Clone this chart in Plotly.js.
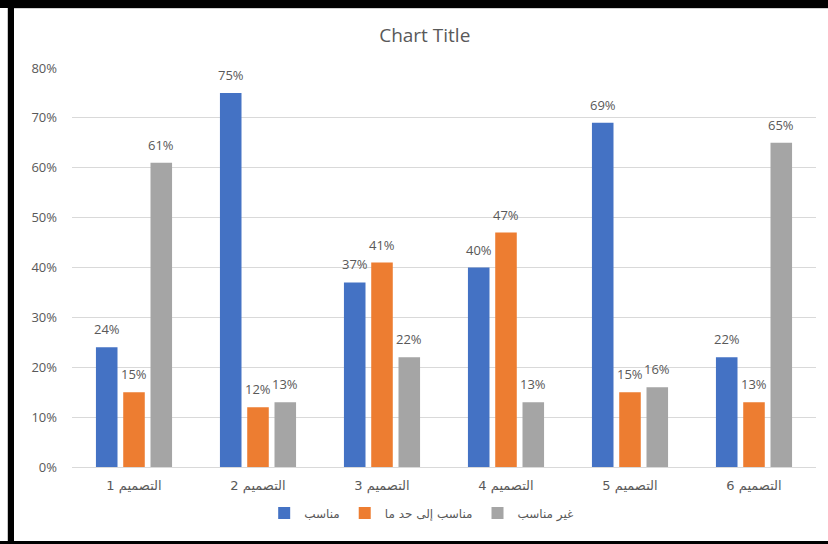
<!DOCTYPE html>
<html>
<head>
<meta charset="utf-8">
<script src="https://cdn.plot.ly/plotly-3.0.1.min.js"></script>
<style>
html,body{margin:0;padding:0;background:#fff;}
#wrap{position:relative;width:828px;height:544px;overflow:hidden;}
#chart{position:absolute;left:0;top:0;width:828px;height:544px;}
.b{position:absolute;background:#000;}
</style>
</head>
<body>
<div id="wrap">
<div id="chart"></div>
<div style="position:absolute;left:7px;top:0;width:1px;height:544px;background:#c8c8c8;"></div>
<div class="b" style="left:0;top:0;width:828px;height:8px;"></div>
<div class="b" style="left:8px;top:0;width:6px;height:544px;"></div>
<div class="b" style="left:0;top:541px;width:828px;height:3px;"></div>
<div style="position:absolute;left:14px;top:8px;width:814px;height:1px;background:#d0d0d0;"></div>
</div>
<script>
var categories = ["التصميم 1", "التصميم 2", "التصميم 3", "التصميم 4", "التصميم 5", "التصميم 6"];
var seriesNames = ["مناسب", "مناسب إلى حد ما", "غير مناسب"];
var suitable = [0.24, 0.75, 0.37, 0.40, 0.69, 0.22];
var somewhatSuitable = [0.15, 0.12, 0.41, 0.47, 0.15, 0.13];
var notSuitable = [0.61, 0.13, 0.22, 0.13, 0.16, 0.65];
var colors = ["#4472C4", "#ED7D31", "#A5A5A5"];
var yTickVals = [0, 0.1, 0.2, 0.3, 0.4, 0.5, 0.6, 0.7, 0.8];

var W = 828, H = 544;
var M = { l: 72, r: 12, t: 68, b: 77 };
var BARGAP = 0.34, BARGROUPGAP = 0.21;

var allSeries = [suitable, somewhatSuitable, notSuitable];
var traces = allSeries.map(function (vals, i) {
  return {
    type: "bar",
    name: seriesNames[i],
    x: categories,
    y: vals,
    marker: { color: colors[i] },
    hoverinfo: "none"
  };
});

// data labels placed on the library's axes, shifted to each bar's slot in the group
var catPx = (W - M.l - M.r) / categories.length;
var slotPx = catPx * (1 - BARGAP) / allSeries.length;
var annotations = [];
allSeries.forEach(function (vals, i) {
  vals.forEach(function (v, j) {
    annotations.push({
      x: categories[j],
      y: v,
      xref: "x",
      yref: "y",
      text: Math.round(v * 100) + "%",
      showarrow: false,
      xanchor: "center",
      yanchor: "bottom",
      xshift: (i - (allSeries.length - 1) / 2) * slotPx,
      yshift: 7,
      font: { family: "Open Sans, sans-serif", size: 13, color: "#595959" }
    });
  });
});

var layout = {
  width: W,
  height: H,
  margin: M,
  paper_bgcolor: "#ffffff",
  plot_bgcolor: "#ffffff",
  font: { family: "Open Sans, sans-serif", color: "#595959" },
  title: {
    text: "Chart Title",
    x: 0.513,
    xanchor: "center",
    y: 0.935,
    yanchor: "middle",
    font: { family: "Open Sans, sans-serif", size: 19, color: "#595959" }
  },
  barmode: "group",
  bargap: BARGAP,
  bargroupgap: BARGROUPGAP,
  showlegend: true,
  legend: {
    orientation: "h",
    x: 0.47,
    xanchor: "center",
    y: -0.115,
    yanchor: "middle",
    font: { family: "DejaVu Sans, sans-serif", size: 12, color: "#595959" },
    itemwidth: 30,
    traceorder: "normal"
  },
  annotations: annotations,
  xaxis: {
    type: "category",
    showgrid: false,
    showline: true,
    linecolor: "#d9d9d9",
    linewidth: 1,
    ticks: "",
    ticklabelstandoff: 6,
    tickfont: { family: "DejaVu Sans, sans-serif", size: 13, color: "#595959" },
    fixedrange: true
  },
  yaxis: {
    range: [0, 0.8],
    tickvals: yTickVals,
    tickformat: ".0%",
    showgrid: true,
    gridcolor: "#d9d9d9",
    gridwidth: 1,
    zeroline: false,
    showline: false,
    ticks: "",
    ticklabelstandoff: 14,
    tickfont: { family: "Open Sans, sans-serif", size: 13, color: "#595959" },
    fixedrange: true
  }
};

Plotly.newPlot("chart", traces, layout, { displayModeBar: false, staticPlot: true });
</script>
</body>
</html>
